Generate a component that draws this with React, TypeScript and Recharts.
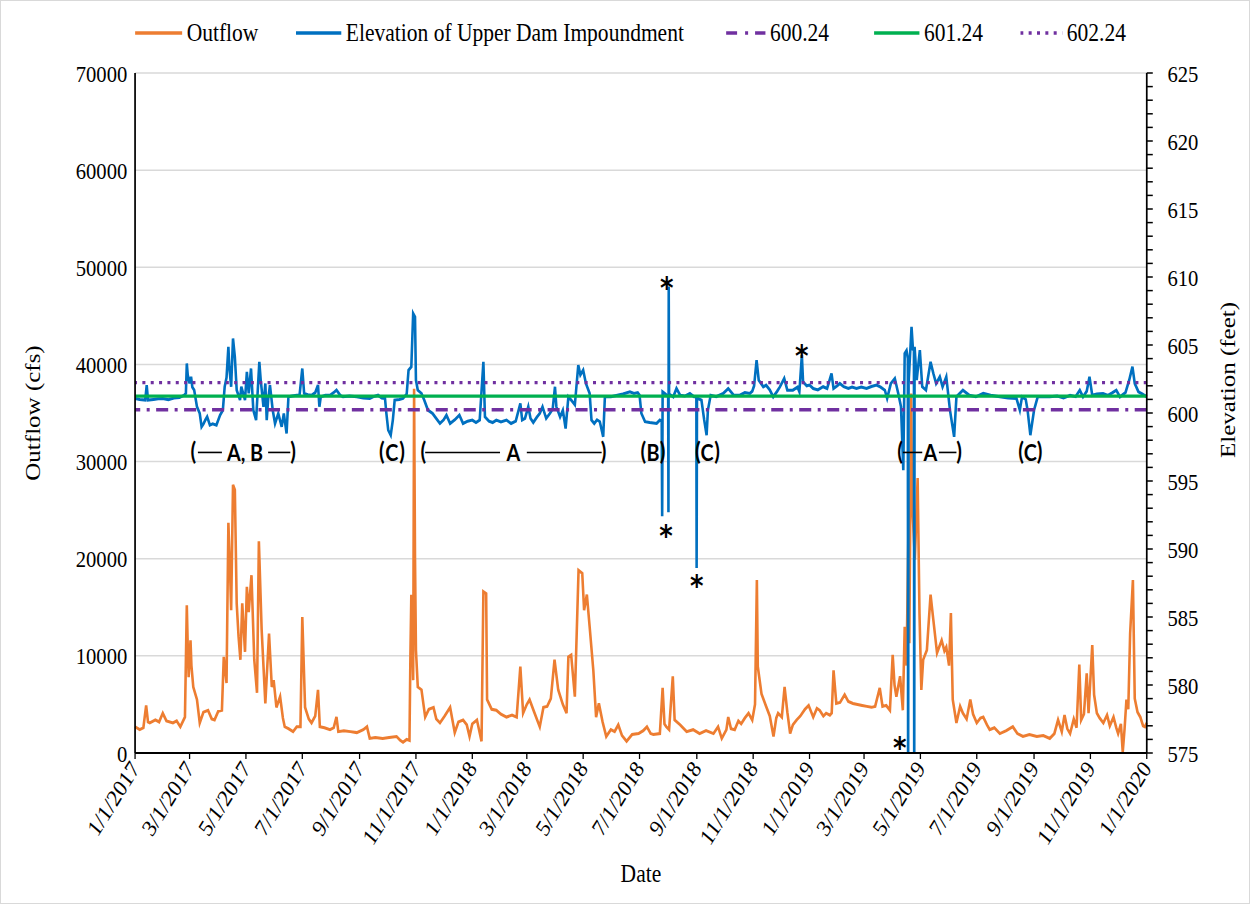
import React from "react";
import {
  LineChart,
  Line,
  XAxis,
  YAxis,
  CartesianGrid,
  ReferenceLine,
  ReferenceDot,
} from "recharts";

// the reference is squashed horizontally, so the chart is drawn wider and scaled back
const SQUASH = 1250 / 1453;
const INNER_W = 1453;
const H = 904;

const ORANGE = "#ED7D31";
const BLUE = "#0070C0";
const GREEN = "#00B050";
const PURPLE = "#7030A0";
const SERIF = "'Liberation Serif', 'Times New Roman', serif";
const SANS = "Lato, 'Open Sans', sans-serif";
const STAR_FONT = "'DejaVu Sans', sans-serif";

// days since 1/1/2017
const dateTicks = [0, 59, 120, 181, 243, 304, 365, 424, 485, 546, 608, 669, 730, 789, 850, 911, 973, 1034, 1095];
const dateLabels = [
  "1/1/2017", "3/1/2017", "5/1/2017", "7/1/2017", "9/1/2017", "11/1/2017",
  "1/1/2018", "3/1/2018", "5/1/2018", "7/1/2018", "9/1/2018", "11/1/2018",
  "1/1/2019", "3/1/2019", "5/1/2019", "7/1/2019", "9/1/2019", "11/1/2019",
  "1/1/2020",
];
const outflowTicks = [0, 10000, 20000, 30000, 40000, 50000, 60000, 70000];
const elevationTicks = Array.from({ length: 51 }, (_, i) => 575 + i);
const levels = [600.24, 601.24, 602.24];

// [day, cfs]
const outflow2017: [number, number][] = [
  [0, 2700], [5, 2400], [9, 2600], [12, 4900], [14, 3200], [16, 3100], [22, 3400], [26, 3200],
  [30, 4100], [34, 3300], [41, 3100], [45, 3300], [49, 2700], [54, 3700], [56, 15200], [57, 11000],
  [58, 7800], [60, 11600], [61, 9000], [63, 6800], [67, 5500], [70, 3100], [74, 4200], [79, 4400],
  [83, 3500], [86, 3400], [90, 4300], [94, 4400], [96, 9900], [99, 7200], [101, 23700], [103, 18100],
  [104, 14700], [106, 27600], [108, 27100], [110, 15400], [112, 12000], [114, 9600], [116, 15400],
  [119, 10400], [121, 17100], [123, 14500], [126, 18300], [129, 9600], [132, 6200], [134, 21800],
  [137, 12700], [141, 5100], [145, 12300], [148, 6800], [150, 7500], [153, 4700], [157, 5800],
  [160, 3600], [162, 2700], [166, 2500], [171, 2200], [175, 2700], [179, 2700], [181, 14000],
  [184, 4700], [188, 3500], [191, 3100], [195, 3800], [198, 6500], [200, 2700], [205, 2600],
  [211, 2400], [215, 2600], [218, 3700], [220, 2200], [226, 2300], [233, 2200], [240, 2100],
  [247, 2400], [251, 2700], [254, 1500], [260, 1600], [268, 1500], [275, 1600], [283, 1700],
  [287, 1300], [290, 1100], [294, 1400], [297, 1300], [298, 9900], [299, 16300], [301, 7500],
  [302, 37500], [303, 20000], [304, 10600], [306, 6800], [310, 6500], [314, 3700], [318, 4500],
  [323, 4700], [326, 3500], [330, 3100], [335, 3800], [341, 4700], [346, 2100], [350, 3200],
  [355, 3400], [359, 2900], [362, 1700], [365, 3000],
];
const outflow2018: [number, number][] = [
  [370, 3400], [375, 1200], [377, 16600], [380, 16400], [381, 5500], [386, 4500], [391, 4400],
  [396, 4000], [402, 3700], [408, 3900], [413, 3700], [417, 8900], [420, 4100], [424, 5000],
  [427, 5500], [432, 4200], [438, 2700], [442, 4700], [446, 4800], [450, 5600], [454, 9600],
  [458, 6500], [463, 5000], [467, 4100], [469, 9900], [472, 10100], [476, 5800], [480, 18800],
  [484, 18500], [486, 14700], [489, 16300], [492, 13000], [496, 8500], [499, 3700], [502, 5100],
  [506, 3200], [510, 1700], [515, 2400], [519, 2200], [523, 2900], [527, 1800], [532, 1200],
  [538, 1900], [545, 2000], [550, 2300], [554, 2700], [558, 2000], [561, 1900], [568, 2000],
  [571, 6700], [573, 3000], [575, 2700], [578, 2400], [582, 7900], [584, 3400], [590, 2900],
  [597, 2200], [604, 2400], [611, 2000], [618, 2300], [626, 2000], [631, 2700], [635, 1500],
  [640, 2400], [642, 3700], [645, 2500], [649, 2400], [653, 3300], [656, 3000], [660, 3600],
  [664, 4100], [668, 3400], [671, 5000], [673, 17800], [674, 8900], [678, 6100], [683, 4800],
  [687, 3800], [691, 1700], [694, 3600], [696, 4100], [700, 3700], [703, 6800], [706, 4200],
  [709, 2000], [712, 2900], [716, 3400], [720, 3800], [725, 4500], [729, 4900],
];
const outflow2019: [number, number][] = [
  [734, 3700], [738, 4600], [741, 4400], [745, 3800], [748, 4100], [752, 3900], [754, 4100],
  [756, 8500], [759, 5100], [763, 5200], [768, 6000], [772, 5300], [777, 5100], [782, 5000],
  [787, 4900], [792, 4800], [797, 4700], [801, 4800], [806, 6700], [809, 4800], [813, 4900],
  [817, 4400], [820, 10100], [822, 7000], [824, 5800], [828, 7900], [831, 4400], [833, 13000],
  [835, 9000], [837, 22600], [838, 11300], [840, 37000], [841, 26000], [844, 19900], [847, 28300],
  [849, 14400], [851, 6500], [853, 9600], [857, 10600], [861, 16300], [864, 13700], [868, 10300],
  [873, 11600], [876, 10500], [878, 10900], [881, 9000], [883, 14400], [885, 5500], [889, 3100],
  [893, 4800], [896, 4100], [900, 3500], [904, 5500], [907, 4000], [911, 3100], [915, 3600],
  [918, 3700], [922, 2900], [925, 2400], [930, 2600], [936, 2000], [943, 2300], [950, 2700],
  [955, 2000], [961, 1700], [968, 1900], [976, 1700], [983, 1800], [990, 1500], [995, 2000],
  [999, 3400], [1003, 2200], [1006, 3900], [1009, 2500], [1012, 2000], [1016, 3500], [1019, 2600],
  [1022, 9100], [1024, 3400], [1027, 4000], [1030, 8200], [1032, 4100], [1036, 11100], [1038, 6000],
  [1041, 4100], [1044, 3600], [1048, 3100], [1052, 3900], [1055, 2800], [1059, 3700], [1062, 2600],
  [1064, 2000], [1067, 3000], [1069, 100], [1071, 2500], [1073, 5500], [1075, 4500], [1077, 12300],
  [1080, 17800], [1082, 5600], [1085, 4200], [1088, 3700], [1091, 2800], [1093, 2700], [1095, 3100],
];

// [day, feet]; values under 575 run off the bottom of the axis
const elevation2017: [number, number][] = [
  [0, 601.07], [5, 601.0], [11, 600.95], [12.6, 602.05], [14, 600.95], [20, 601.0], [25, 601.05],
  [30, 601.07], [36, 600.98], [42, 601.1], [48, 601.14], [53, 601.3], [55, 601.44], [56, 603.64],
  [57, 602.8], [59, 602.17], [60.6, 602.66], [62, 601.9], [64, 601.68], [67, 600.46], [70, 599.97],
  [72, 598.99], [74, 599.2], [76, 599.48], [78, 599.72], [81, 599.11], [84, 599.2], [88, 599.11],
  [92, 599.84], [95, 600.21], [97, 601.93], [99, 602.6], [101, 604.87], [102, 603.4], [104, 601.93],
  [106, 605.48], [108, 604.13], [110, 601.68], [113.6, 600.95], [115, 601.93], [119, 600.95],
  [121, 603.03], [123, 601.44], [125.5, 603.27], [128, 600.21], [131, 599.48], [134.5, 603.76],
  [136, 602.42], [139, 600.46], [141, 602.17], [142.5, 599.48], [144, 600.95], [146, 602.05],
  [149, 600.21], [151.5, 599.23], [155, 599.97], [158.7, 598.99], [161, 599.97], [164, 598.5],
  [166, 601.19], [170, 601.25], [175, 601.31], [178, 601.3], [181, 603.27], [183, 601.44],
  [187, 601.35], [191, 601.31], [195, 601.5], [198, 602.05], [199.5, 600.46], [201, 601.19],
  [206, 601.3], [211, 601.31], [215, 601.5], [218, 601.68], [222, 601.3], [225, 601.19],
  [232, 601.25], [240, 601.19], [247, 601.1], [254, 601.07], [258, 601.2], [263, 601.31],
  [267, 601.1], [270.5, 601.07], [272, 599.97], [274, 598.74], [276.7, 598.37], [279, 599.48],
  [281, 600.95], [286, 601.0], [290, 601.07], [294, 601.4], [296, 603.15], [299, 603.4],
  [301, 607.32], [303, 607.07], [304, 602.42], [306, 601.68], [310, 601.44], [313, 600.95],
  [317, 600.21], [322, 599.97], [326, 599.6], [330, 599.23], [334, 599.5], [337, 599.84],
  [341, 599.23], [346, 599.5], [351, 599.84], [355, 599.23], [360, 599.4], [365, 599.48],
];
const elevation2018: [number, number][] = [
  [369, 599.3], [373, 599.48], [377, 603.76], [378.7, 599.72], [383, 599.4], [387, 599.3],
  [391, 599.48], [396, 599.35], [402, 599.48], [407, 599.23], [412, 599.4], [417, 600.7],
  [419, 599.48], [422, 599.6], [425.6, 600.46], [428, 599.6], [431, 599.3], [435, 599.7],
  [438, 599.97], [441, 600.46], [445, 599.6], [449, 599.97], [452, 600.3], [454.5, 601.93],
  [456, 600.46], [460, 599.72], [463, 600.2], [466, 598.86], [469, 601.19], [472, 600.95],
  [476, 600.6], [479.7, 603.52], [482, 602.8], [485, 603.15], [488, 602.17], [492, 601.44],
  [494, 599.48], [497, 599.23], [500, 599.5], [503, 599.36], [506.7, 598.25], [508.5, 601.19],
  [515, 601.19], [522, 601.3], [528, 601.4], [535.6, 601.56], [540, 601.44], [544, 601.5],
  [546, 601.31], [548, 599.97], [552, 599.36], [557, 599.3], [564.5, 599.23], [568, 599.48],
  [570, 599.4], [570.5, 592.4], [571, 601.56], [574, 601.4], [577, 601.2], [577.3, 592.7],
  [577.6, 609.3], [578, 601.4], [582.5, 601.19], [586, 601.8], [590, 601.3], [595, 601.25],
  [600.5, 601.44], [605, 601.2], [607.5, 601.2], [607.8, 588.6], [608.2, 601.1], [613, 600.95],
  [616, 599.48], [618.6, 598.37], [620, 600.21], [623, 601.31], [629, 601.2], [636.6, 601.44],
  [642, 601.8], [648, 601.3], [654.6, 601.31], [660, 601.5], [665.4, 601.44], [668, 601.6],
  [670, 602.0], [672.7, 603.89], [675, 602.42], [680, 601.93], [683, 602.05], [687, 601.7],
  [690.7, 601.19], [695, 601.6], [698, 601.93], [702.6, 602.54], [706, 601.68], [712, 601.68],
  [717, 601.9], [719, 601.56], [721.7, 604.25], [723, 602.29], [727, 602.0], [730, 602.05],
];
const elevation2019: [number, number][] = [
  [734, 601.8], [739, 601.7], [744.7, 601.93], [749, 601.8], [753.8, 602.91], [756, 601.8],
  [760, 602.0], [762.8, 602.17], [767, 601.93], [772, 601.8], [776, 601.9], [780.8, 601.8],
  [786, 601.9], [791.7, 601.8], [797, 601.95], [802.5, 602.05], [807, 601.9], [811.5, 601.68],
  [814, 601.07], [818, 602.17], [822.3, 602.54], [826, 601.44], [829, 600.46], [831.5, 595.8],
  [833, 604.38], [835, 604.6], [836.4, 604.0], [836.7, 570], [837.2, 602.17], [840.4, 606.34],
  [842, 604.6], [843, 604.8], [843.3, 570], [843.7, 604.87], [846, 602.42], [849.4, 604.62],
  [852, 601.93], [856, 601.68], [861, 603.76], [864, 602.91], [867, 602.17], [871, 602.66],
  [874, 601.93], [878, 602.66], [882, 600.21], [886.5, 598.25], [889, 601.19], [896, 601.68],
  [903, 601.3], [910, 601.19], [918, 601.44], [926, 601.3], [936, 601.19], [945, 601.1],
  [954, 601.07], [957.6, 600.21], [960, 601.19], [964, 601.0], [966, 600.21], [969, 598.37],
  [973, 600.21], [977, 601.19], [984, 601.2], [990, 601.19], [998, 601.25], [1005, 601.1],
  [1012, 601.3], [1018, 601.2], [1022.5, 601.68], [1026, 601.19], [1030, 601.6], [1033, 602.66],
  [1036, 601.3], [1041, 601.4], [1047.7, 601.44], [1053, 601.3], [1058, 601.5], [1062, 601.68],
  [1066, 601.19], [1072, 601.5], [1076, 602.42], [1079.5, 603.4], [1082, 602.17], [1086, 601.56],
  [1090, 601.4], [1095, 601.19],
];

// bracket notes under the elevation line
const bracketLevel = 597.1;
const bracketNotes = [
  { label: "A, B", open: 63, close: 171, at: 119, lines: [[68, 94], [144, 168]] },
  { label: "C", open: 267, close: 289, at: 278, lines: [] },
  { label: "A", open: 312, close: 507, at: 409.5, lines: [[314, 395], [424, 505]] },
  { label: "B", open: 550, close: 571, at: 560.5, lines: [] },
  { label: "C", open: 609, close: 630, at: 619, lines: [] },
  { label: "A", open: 828, close: 892, at: 860.7, lines: [[831, 852], [870, 889]] },
  { label: "C", open: 959, close: 979, at: 969, lines: [] },
];
const asteriskNotes = [
  { day: 575.6, elev: 609.8 },
  { day: 574.6, elev: 591.6 },
  { day: 608, elev: 587.9 },
  { day: 721.7, elev: 604.8 },
  { day: 827.7, elev: 576.0 },
];

const outflowData = [...outflow2017, ...outflow2018, ...outflow2019].map(([day, cfs]) => ({ day, cfs }));
const elevationData = [...elevation2017, ...elevation2018, ...elevation2019].map(([day, feet]) => ({ day, feet }));

const DASH_DOT = "14 7.5 3.5 7.5";
const DOTTED = "3.5 6.2";

const legendItems = [
  { label: "Outflow", left: 157, width: 55, color: ORANGE, dash: undefined as string | undefined },
  { label: "Elevation of Upper Dam Impoundment", left: 344, width: 53, color: BLUE, dash: undefined },
  { label: "600.24", left: 844, width: 46, color: PURPLE, dash: "12.8 9.3 3.5 8.1" },
  { label: "601.24", left: 1016, width: 53, color: GREEN, dash: undefined },
  { label: "602.24", left: 1186, width: 49, color: PURPLE, dash: DOTTED },
];

function DateTick(props: any) {
  const { x, y, payload } = props;
  const label = dateLabels[dateTicks.indexOf(payload.value)];
  return (
    <text
      x={x}
      y={y}
      textAnchor="end"
      dominantBaseline="central"
      transform={`rotate(-54 ${x} ${y})`}
      fontFamily={SERIF}
      fontSize={24}
      fill="#000"
    >
      {label}
    </text>
  );
}

const noteText = (text: string, dy: string, size: number, family = SANS) => (p: any) => (
  <text
    x={p.cx}
    y={p.cy}
    dy={dy}
    textAnchor="middle"
    fontFamily={family}
    fontWeight={700}
    fontSize={size}
    fill="#000"
  >
    {text}
  </text>
);

export default function App() {
  const tickStyle = { fontFamily: SERIF, fontSize: 24, fill: "#000" };

  const bracketLines = bracketNotes.flatMap((n, i) =>
    n.lines.map(([a, b], j) => (
      <ReferenceLine
        key={`bl-${i}-${j}`}
        yAxisId="right"
        segment={[{ x: a, y: bracketLevel }, { x: b, y: bracketLevel }]}
        stroke="#000"
        strokeWidth={1.6}
      />
    ))
  );
  const bracketMarks = bracketNotes.flatMap((n, i) => [
    <ReferenceDot key={`bo-${i}`} yAxisId="right" x={n.open} y={bracketLevel} r={1} shape={noteText("(", "0.3em", 24)} />,
    <ReferenceDot key={`bc-${i}`} yAxisId="right" x={n.close} y={bracketLevel} r={1} shape={noteText(")", "0.3em", 24)} />,
    <ReferenceDot key={`bt-${i}`} yAxisId="right" x={n.at} y={bracketLevel} r={1} shape={noteText(n.label, "0.36em", 23)} />,
  ]);
  const asterisks = asteriskNotes.map((a, i) => (
    <ReferenceDot key={`as-${i}`} yAxisId="right" x={a.day} y={a.elev} r={1} shape={noteText("*", "0.62em", 30, STAR_FONT)} />
  ));

  return (
    <div style={{ position: "absolute", left: 0, top: 0, width: 1250, height: H, overflow: "hidden", background: "#fff" }}>
      <div style={{ position: "relative", width: INNER_W, height: H, transform: `scaleX(${SQUASH})`, transformOrigin: "0 0" }}>
        <LineChart width={INNER_W} height={H} margin={{ top: 73, right: 0, bottom: 0, left: 0 }}>
          <CartesianGrid yAxisId="left" vertical={false} stroke="#d9d9d9" strokeWidth={1.5} />
          <XAxis
            dataKey="day"
            type="number"
            domain={[0, 1095]}
            ticks={dateTicks}
            interval={0}
            height={151}
            tick={<DateTick />}
            tickSize={6}
            tickMargin={5}
            axisLine={{ stroke: "#000", strokeWidth: 2 }}
            tickLine={{ stroke: "#000", strokeWidth: 1.5 }}
          />
          <YAxis
            yAxisId="left"
            orientation="left"
            domain={[0, 70000]}
            ticks={outflowTicks}
            interval={0}
            width={157}
            tick={tickStyle}
            tickLine={false}
            tickSize={0}
            tickMargin={9}
            axisLine={{ stroke: "#000", strokeWidth: 2 }}
          />
          <YAxis
            yAxisId="right"
            orientation="right"
            domain={[575, 625]}
            allowDataOverflow
            ticks={elevationTicks}
            interval={0}
            width={120}
            tick={tickStyle}
            tickFormatter={(v: number) => (v % 5 === 0 ? String(v) : "")}
            tickSize={7}
            tickMargin={17}
            axisLine={{ stroke: "#000", strokeWidth: 2 }}
            tickLine={{ stroke: "#000", strokeWidth: 1.5 }}
          />
          <Line
            yAxisId="left"
            data={outflowData}
            dataKey="cfs"
            type="linear"
            stroke={ORANGE}
            strokeWidth={3}
            dot={false}
            activeDot={false}
            isAnimationActive={false}
          />
          <Line
            yAxisId="right"
            data={elevationData}
            dataKey="feet"
            type="linear"
            stroke={BLUE}
            strokeWidth={3}
            dot={false}
            activeDot={false}
            isAnimationActive={false}
          />
          <ReferenceLine yAxisId="right" y={levels[0]} stroke={PURPLE} strokeWidth={3.3} strokeDasharray={DASH_DOT} />
          <ReferenceLine yAxisId="right" y={levels[1]} stroke={GREEN} strokeWidth={3.3} />
          <ReferenceLine yAxisId="right" y={levels[2]} stroke={PURPLE} strokeWidth={3.3} strokeDasharray={DOTTED} />
          {bracketLines}
          {bracketMarks}
          {asterisks}
        </LineChart>

        {legendItems.map((item) => (
          <div
            key={item.label}
            style={{
              position: "absolute",
              left: item.left,
              top: 15,
              height: 36,
              display: "flex",
              alignItems: "center",
              whiteSpace: "nowrap",
            }}
          >
            <svg width={item.width} height={36} style={{ display: "block" }}>
              <line x1={0} x2={item.width} y1={18} y2={18} stroke={item.color} strokeWidth={3.3} strokeDasharray={item.dash} />
            </svg>
            <span style={{ marginLeft: 5, fontFamily: SERIF, fontSize: 25, lineHeight: "36px", color: "#000" }}>{item.label}</span>
          </div>
        ))}

        <div
          style={{
            position: "absolute",
            left: 38,
            top: 413,
            transform: "translate(-50%, -50%) rotate(-90deg)",
            fontFamily: SERIF,
            fontSize: 25,
            whiteSpace: "nowrap",
          }}
        >
          Outflow (cfs)
        </div>
        <div
          style={{
            position: "absolute",
            left: 1428,
            top: 380,
            transform: "translate(-50%, -50%) rotate(-90deg)",
            fontFamily: SERIF,
            fontSize: 25,
            whiteSpace: "nowrap",
          }}
        >
          Elevation (feet)
        </div>
        <div
          style={{
            position: "absolute",
            left: 745,
            top: 874,
            transform: "translate(-50%, -50%)",
            fontFamily: SERIF,
            fontSize: 25,
            whiteSpace: "nowrap",
          }}
        >
          Date
        </div>
      </div>
      <div style={{ position: "absolute", inset: 0, border: "1px solid #d9d9d9", pointerEvents: "none" }} />
    </div>
  );
}
